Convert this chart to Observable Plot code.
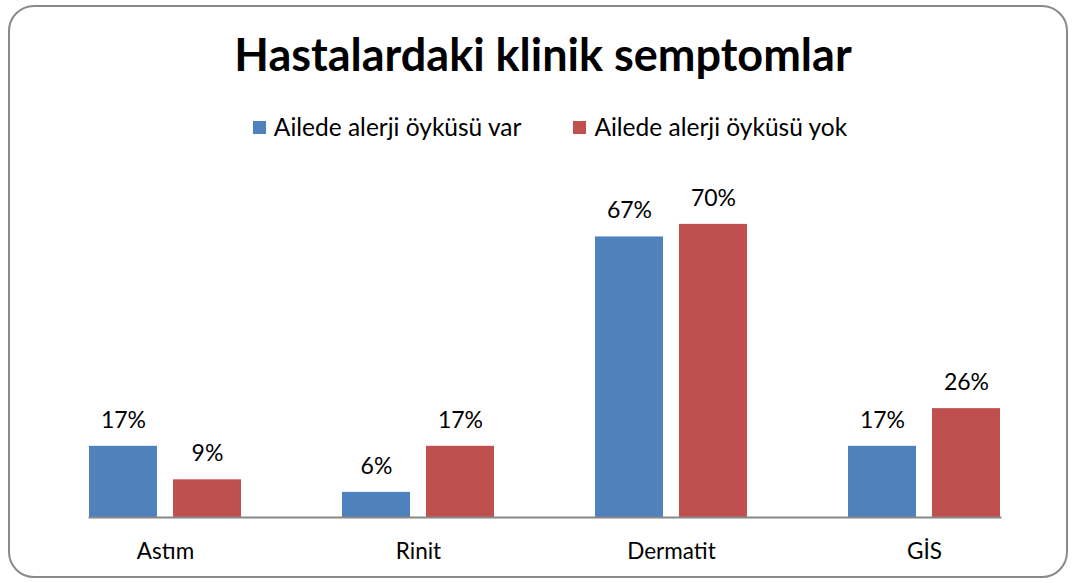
<!DOCTYPE html>
<html><head><meta charset="utf-8">
<script src="https://cdn.jsdelivr.net/npm/d3@7"></script>
<script src="https://cdn.jsdelivr.net/npm/@observablehq/plot@0.6"></script>
<style>
body{margin:0;background:#fff;font-family:Lato,sans-serif;color:#000;}
#wrap{position:relative;width:1075px;height:583px;overflow:hidden;background:#fff;}
#frame{position:absolute;left:8px;top:5px;width:1056px;height:569px;border:2px solid #8a8a8a;border-radius:26px;}
#title{position:absolute;left:0;width:1086px;top:27px;line-height:54px;text-align:center;font-weight:700;font-size:45px;white-space:nowrap;}
#legend{position:absolute;left:0;width:1100px;top:112px;line-height:30px;font-size:24.5px;display:flex;justify-content:center;gap:52px;white-space:nowrap;}
.item{display:flex;align-items:center;}
.sw{width:13px;height:13px;margin-right:8px;}
#chart{position:absolute;left:0;top:150px;}
</style></head>
<body>
<div id="wrap">
  <div id="frame"></div>
  <div id="title"></div>
  <div id="legend"></div>
  <div id="chart"></div>
</div>
<script>
const titleText = "Hastalardaki klinik semptomlar";
const categories = ["Astım", "Rinit", "Dermatit", "GİS"];
const series = ["Ailede alerji öyküsü var", "Ailede alerji öyküsü yok"];
const varValues = [17, 6, 67, 17];
const yokValues = [9, 17, 70, 26];
const colors = ["#4F81BD", "#C0504D"];
const yMax = 80;

const data = categories.flatMap((c, i) => [
  {cat: c, series: series[0], value: varValues[i]},
  {cat: c, series: series[1], value: yokValues[i]}
]);

document.getElementById("title").textContent = titleText;
const legend = document.getElementById("legend");
series.forEach((s, i) => {
  const it = document.createElement("div");
  it.className = "item";
  const sw = document.createElement("span");
  sw.className = "sw";
  sw.style.background = colors[i];
  const tx = document.createElement("span");
  tx.textContent = s;
  it.appendChild(sw); it.appendChild(tx);
  legend.appendChild(it);
});

const chart = Plot.plot({
  width: 1075,
  height: 433,
  marginLeft: 37,
  marginRight: 23,
  marginTop: 32,
  marginBottom: 66,
  style: {fontFamily: "Lato, sans-serif", fontSize: "22px", color: "#000", background: "transparent"},
  fx: {domain: categories, paddingInner: 0.4, paddingOuter: 0.2, axis: null, label: null},
  x: {domain: series, axis: null, paddingInner: 16 / 84, paddingOuter: 0},
  y: {domain: [0, yMax], axis: null},
  color: {domain: series, range: colors},
  marks: [
    Plot.barY(data, {fx: "cat", x: "series", y: "value", fill: "series"}),
    Plot.text(data, {fx: "cat", x: "series", y: "value", text: d => d.value + "%", dy: -26, fontSize: 23, fill: "#000"}),
    Plot.frame({anchor: "bottom", stroke: "#878787", strokeWidth: 2, facet: "super"}),
    Plot.axisFx({anchor: "bottom", tickSize: 0, tickPadding: 26, fontSize: 22.5, label: null, fill: "#000"})
  ]
});
document.getElementById("chart").appendChild(chart);
</script>
</body></html>
